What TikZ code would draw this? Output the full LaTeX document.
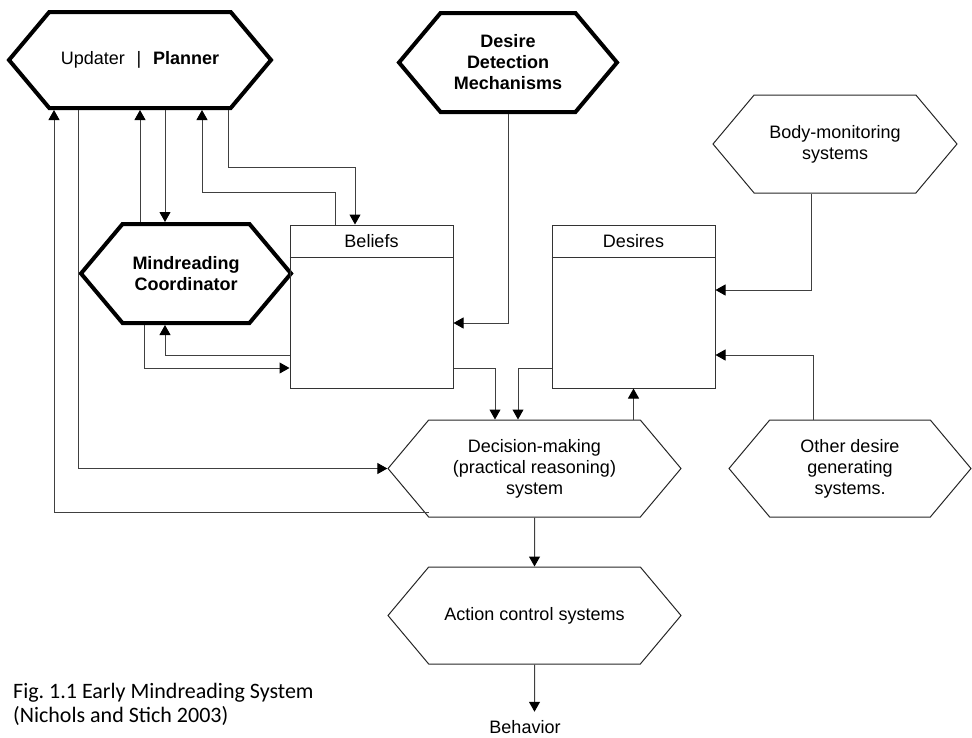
\documentclass[tikz,border=0pt]{standalone}
\usepackage{fontspec}
\setmainfont{Liberation Sans}
\newfontfamily\capfont{Carlito}
\usetikzlibrary{positioning}
\usetikzlibrary{shapes.symbols}
\usetikzlibrary{arrows.meta}

\begin{document}
\begin{tikzpicture}[
  x=1pt, y=-1pt,
  font=\fontsize{18}{21}\selectfont,
  hexbox/.style={signal, signal to=west and east, signal pointer angle=100, draw=black!85, line width=1pt, align=center, inner sep=0pt},
  hexbold/.style={hexbox, draw=black, line width=4pt, font=\fontsize{18}{21}\selectfont\bfseries},
  store/.style={draw=black!80, line width=1pt, minimum width=163pt, minimum height=163pt},
  head/.style={minimum height=33pt, inner sep=0pt},
  arrow/.style={-{Triangle[length=10pt, width=11pt, color=black]}, line width=1pt, draw=black!75}
]
\useasboundingbox (0,0) rectangle (972,737);

\node[hexbold, minimum width=262pt, minimum height=96pt, font=\fontsize{18}{21}\selectfont] (planner) at (140,60) {Updater\hspace{0.65em}|\hspace{0.65em}\textbf{Planner}};
\node[hexbold, minimum width=218pt, minimum height=99pt] (ddm) at (508,62.5) {Desire\\Detection\\Mechanisms};
\node[hexbold, minimum width=210pt, minimum height=99pt] (mind) at (186,273.5) {Mindreading\\Coordinator};
\node[hexbox, minimum width=244pt, minimum height=98pt] (body) at (835,144) {Body-monitoring\\systems};

\node[store] (beliefs) at (371.5,306.5) {};
\node[head, below=0pt of beliefs.north] (beliefs head) {Beliefs};
\node[store, right=98pt of beliefs] (desires) {};
\node[head, below=0pt of desires.north] (desires head) {Desires};

\node[hexbox, minimum width=293pt, minimum height=97pt] (decision) at (534.5,468.5) {Decision-making\\(practical reasoning)\\system};
\node[hexbox, minimum width=242pt, minimum height=97pt] (other) at (850,468.5) {Other desire\\generating\\systems.};
\node[hexbox, minimum width=293pt, minimum height=97pt, below=49pt of decision] (action) {Action control systems};
\node[anchor=base, inner sep=1pt] (behavior) at (525,733) {Behavior};

\node[anchor=north west, align=left, inner sep=0pt, font=\capfont\fontsize{22}{24}\selectfont] (caption) at (13,683) {Fig.\ 1.1 Early Mindreading System\\(Nichols and Stich 2003)};

% header lines of the two stores
\draw[draw=black!80, line width=1pt] (beliefs head.south -| beliefs.west) -- (beliefs head.south -| beliefs.east);
\draw[draw=black!80, line width=1pt] (desires head.south -| desires.west) -- (desires head.south -| desires.east);

% planner and mindreading coordinator
\draw[arrow] ([shift={(-106pt,5pt)}]decision.south) -| ([xshift=-86pt]planner.south);
\draw[arrow] ([xshift=-62pt]planner.south) |- (decision.west);
\draw[arrow] ([xshift=-46pt]mind.north) -- (planner.south);
\draw[arrow] ([xshift=25pt]planner.south) -- ([xshift=25pt]planner.south |- mind.north);
\draw[arrow] ([xshift=-36pt]beliefs.north) -- ++(0pt,32pt) -| ([xshift=62pt]planner.south);
\draw[arrow] ([xshift=88pt]planner.south) -- ++(0pt,-57pt) -| ([xshift=-16.5pt]beliefs.north);
\draw[arrow] ([xshift=-42pt]mind.south) |- ([yshift=-61.5pt]beliefs.west);
\draw[arrow] ([yshift=-48.5pt]beliefs.west) -| ([xshift=-21pt]mind.south);

% beliefs, desires and decision making
\draw[arrow] (ddm.south) |- ([yshift=-16.5pt]beliefs.east);
\draw[arrow] ([yshift=-61.5pt]beliefs.east) -| ([xshift=-39.5pt]decision.north);
\draw[arrow] ([yshift=-61.5pt]desires.west) -| ([xshift=-16.5pt]decision.north);
\draw[arrow] (desires.south |- decision.north) -- (desires.south);
\draw[arrow] ([xshift=-24pt]body.south) |- ([yshift=16.5pt]desires.east);
\draw[arrow] ([xshift=-37pt]other.north) |- ([yshift=-48.5pt]desires.east);

% output
\draw[arrow] (decision) -- (action);
\draw[arrow] (action) -- ([yshift=7pt]behavior.north -| action);

\end{tikzpicture}
\end{document}
